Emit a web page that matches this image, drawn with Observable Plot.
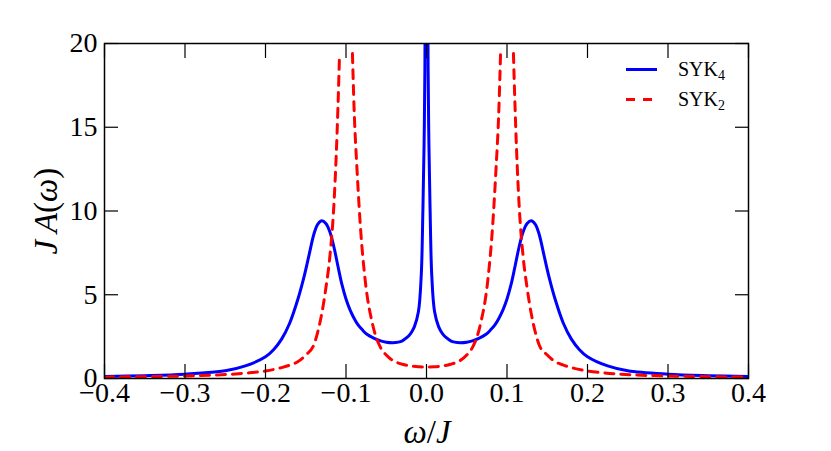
<!DOCTYPE html>
<html><head><meta charset="utf-8">
<script src="https://cdn.jsdelivr.net/npm/d3@7"></script>
<script src="https://cdn.jsdelivr.net/npm/@observablehq/plot@0.6"></script>
<style>body{margin:0;background:#fff}</style>
</head><body><div id="chart"></div>
<script>
// SYK4 (blue, solid)
const syk4Omega = [-0.40,-0.35,-0.30,-0.25,-0.225,-0.20,-0.19,-0.18,-0.17,-0.16,-0.152,-0.146,-0.14,-0.135,-0.13,-0.125,-0.12,-0.115,-0.11,-0.105,-0.10,-0.095,-0.09,-0.085,-0.08,-0.074,-0.065,-0.057,-0.05,-0.042,-0.035,-0.03,-0.025,-0.02,-0.015,-0.01,-0.0065,-0.0045,-0.003,-0.002,-0.001,0,
  0.001,0.002,0.003,0.0045,0.0065,0.01,0.015,0.02,0.025,0.03,0.035,0.042,0.05,0.057,0.065,0.074,0.08,0.085,0.09,0.095,0.10,0.105,0.11,0.115,0.12,0.125,0.13,0.135,0.14,0.146,0.152,0.16,0.17,0.18,0.19,0.20,0.225,0.25,0.30,0.35,0.40];
const syk4Value = [0.12,0.17,0.26,0.46,0.75,1.3,1.72,2.35,3.3,4.7,6.1,7.35,8.6,9.22,9.42,9.25,8.75,7.85,6.7,5.6,4.75,4.1,3.6,3.2,2.92,2.64,2.4,2.25,2.17,2.14,2.17,2.25,2.42,2.67,3.1,4.0,6.2,10,14,18.5,30,60,
  30,18.5,14,10,6.2,4.0,3.1,2.67,2.42,2.25,2.17,2.14,2.17,2.25,2.4,2.64,2.92,3.2,3.6,4.1,4.75,5.6,6.7,7.85,8.75,9.25,9.42,9.22,8.6,7.35,6.1,4.7,3.3,2.35,1.72,1.3,0.75,0.46,0.26,0.17,0.12];
// SYK2 (red, dashed) — NaN marks where the drawn curve is interrupted at the peaks
const syk2Omega = [-0.40,-0.35,-0.30,-0.26,-0.22,-0.20,-0.18,-0.17,-0.16,-0.15,-0.14,-0.135,-0.13,-0.125,-0.12,-0.115,-0.112,-0.110,-0.108,-0.10,-0.092,-0.090,-0.086,-0.082,-0.076,-0.067,-0.057,-0.05,-0.041,-0.03,-0.02,-0.01,0,
  0.01,0.02,0.03,0.041,0.05,0.057,0.067,0.076,0.082,0.086,0.090,0.092,0.10,0.108,0.110,0.112,0.115,0.12,0.125,0.13,0.135,0.14,0.15,0.16,0.17,0.18,0.20,0.22,0.26,0.30,0.35,0.40];
const syk2Value = [0.08,0.11,0.15,0.21,0.34,0.45,0.65,0.8,1.0,1.4,2.0,2.8,3.9,5.4,7.3,10.4,13.5,16.2,19.4,NaN,19.4,16.2,12.2,9.0,5.8,3.24,1.84,1.4,1.05,0.85,0.75,0.7,0.69,
  0.7,0.75,0.85,1.05,1.4,1.84,3.24,5.8,9.0,12.2,16.2,19.4,NaN,19.4,16.2,13.5,10.4,7.3,5.4,3.9,2.8,2.0,1.4,1.0,0.8,0.65,0.45,0.34,0.21,0.15,0.11,0.08];

const xTicks = [-0.4,-0.3,-0.2,-0.1,0,0.1,0.2,0.3,0.4];
const yTicks = [0,5,10,15,20];
const seriesNames = ["SYK", "SYK"];
const seriesSubs = ["4", "2"];
const seriesColors = ["#0000ff", "#ff0000"];

const syk4Rows = syk4Omega.map((w,i)=>({omega:w, value:syk4Value[i]}));
const syk2Rows = syk2Omega.map((w,i)=>({omega:w, value:syk2Value[i]}));

const font = "'Liberation Serif', 'DejaVu Serif', serif";
const fmtX = d3.format(".1f");

const chart = Plot.plot({
  width: 831, height: 451,
  marginLeft: 104, marginRight: 83, marginTop: 43, marginBottom: 73,
  x: {domain: [-0.4, 0.4]},
  y: {domain: [0, 20]},
  style: {fontFamily: font, background: "white", color: "black"},
  marks: [
    Plot.line(syk4Rows, {x: "omega", y: "value", stroke: seriesColors[0], strokeWidth: 3, curve: "catmull-rom", clip: true}),
    Plot.line(syk2Rows, {x: "omega", y: "value", stroke: seriesColors[1], strokeWidth: 3, strokeDasharray: "9,7", curve: "monotone-x", clip: true}),
    Plot.frame({stroke: "black", strokeWidth: 1.5}),
    Plot.axisX({ticks: xTicks, anchor: "bottom", tickSize: -14, tickFormat: () => "", label: null, strokeWidth: 1.2}),
    Plot.axisX({ticks: xTicks, anchor: "top", tickSize: -14, tickFormat: () => "", label: null, strokeWidth: 1.2}),
    Plot.axisY({ticks: yTicks, anchor: "left", tickSize: -14, tickFormat: () => "", label: null, strokeWidth: 1.2}),
    Plot.axisY({ticks: yTicks, anchor: "right", tickSize: -14, tickFormat: () => "", label: null, strokeWidth: 1.2}),
    Plot.axisX({ticks: xTicks, anchor: "bottom", tickSize: 0, tickPadding: 4, tickFormat: fmtX, fontSize: 28, label: null}),
    Plot.axisY({ticks: yTicks, anchor: "left", tickSize: 0, tickPadding: 7, tickFormat: d3.format("d"), fontSize: 28, label: null})
  ]
});
document.getElementById("chart").appendChild(chart);

const svg = d3.select(chart);
// axis labels
const yl = svg.append("text")
  .attr("transform", "translate(57,211) rotate(-90)")
  .attr("text-anchor", "middle")
  .attr("font-size", 33).attr("font-family", font).attr("fill", "black");
yl.append("tspan").attr("font-style", "italic").text("J");
yl.append("tspan").text("\u2009");
yl.append("tspan").attr("font-style", "italic").text("A");
yl.append("tspan").text("(");
yl.append("tspan").attr("font-style", "italic").text("ω");
yl.append("tspan").text(")");

const xl = svg.append("text")
  .attr("x", 427).attr("y", 443)
  .attr("text-anchor", "middle")
  .attr("font-size", 33).attr("font-family", font).attr("fill", "black");
xl.append("tspan").attr("font-style", "italic").text("ω");
xl.append("tspan").text("/");
xl.append("tspan").attr("font-style", "italic").text("J");

// legend
const legendY = [69.5, 99.5];
seriesNames.forEach((name, i) => {
  svg.append("line")
    .attr("x1", 626).attr("x2", 657).attr("y1", legendY[i]).attr("y2", legendY[i])
    .attr("stroke", seriesColors[i]).attr("stroke-width", 3)
    .attr("stroke-dasharray", i === 1 ? "9,8" : null);
  const t = svg.append("text")
    .attr("x", 678).attr("y", legendY[i] + 6)
    .attr("text-anchor", "start")
    .attr("font-size", 20).attr("font-family", font).attr("fill", "black");
  t.append("tspan").text(name);
  t.append("tspan").attr("font-size", 14).attr("dy", 4).text(seriesSubs[i]);
});
</script>
</body></html>
